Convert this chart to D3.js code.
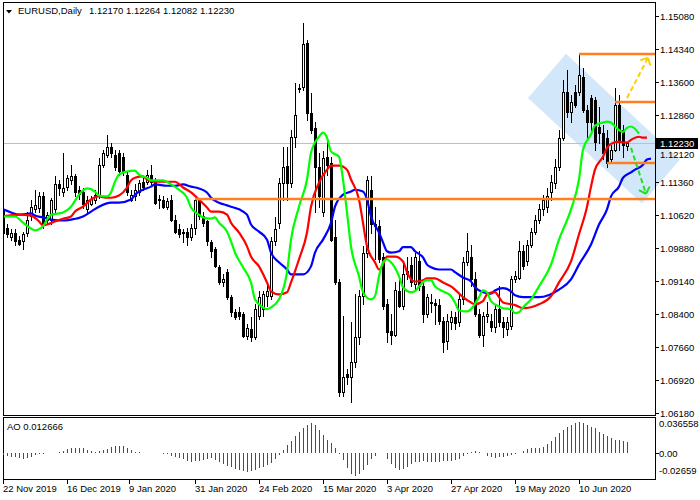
<!DOCTYPE html>
<html><head><meta charset="utf-8">
<script src="https://cdn.jsdelivr.net/npm/d3@7"></script>
<style>
body{margin:0;background:#fff;}
svg{display:block;font-family:"Liberation Sans",Arial,sans-serif;}
</style></head><body>
<svg id="c" width="700" height="500"></svg>
<script>
// ---------- DATA ----------
const symbolTitle = "EURUSD,Daily";
const headerValues = ["1.12170", "1.12264", "1.12082", "1.12230"];
const lastPrice = 1.12230;
const lastPriceLabel = "1.12230";
const aoLabel = "AO 0.012666";

const openP = [1.1074,1.1033,1.1013,1.1022,1.1006,1.1002,1.1022,1.1058,1.1074,1.1078,
1.1105,1.1051,1.1051,1.1074,1.1130,1.1112,1.1125,1.1141,1.1148,1.1118,
1.1114,1.1074,1.1087,1.1096,1.1107,1.1174,1.1197,1.1215,1.1197,1.1201,
1.1192,1.1152,1.1096,1.1103,1.1114,1.1136,1.1136,1.1152,1.1136,1.1098,
1.1096,1.1080,1.1096,1.1051,1.1031,1.1020,1.1024,1.1011,1.1033,1.1096,
1.1058,1.1047,1.1000,1.0984,1.0944,1.0912,1.0933,1.0877,1.0843,1.0843,
1.0838,1.0789,1.0805,1.0787,1.0834,1.0850,1.0879,1.0879,1.1002,1.1044,
1.1134,1.1172,1.1134,1.1237,1.1347,1.1349,1.1448,1.1291,1.1257,1.1170,
1.1067,1.1192,1.1179,1.1011,1.0912,1.0664,1.0704,1.0697,1.0731,1.0787,
1.0879,1.0977,1.1118,1.1040,1.1036,1.0966,1.0861,1.0800,1.0793,1.0890,
1.0856,1.0935,1.0950,1.0906,1.0957,1.0901,1.0838,1.0865,1.0863,1.0859,
1.0823,1.0778,1.0821,1.0832,1.0821,1.0872,1.0955,1.0968,1.0917,1.0838,
1.0793,1.0834,1.0823,1.0809,1.0850,1.0821,1.0805,1.0812,1.0917,1.0921,
1.0980,1.0957,1.0995,1.1024,1.1051,1.1074,1.1080,1.1114,1.1134,1.1168,
1.1235,1.1338,1.1293,1.1338,1.1338,1.1372,1.1298,1.1325,1.1320,1.1259,
1.1246,1.1235,1.1186,1.1208,1.1309,1.1253,1.1217];
const highP = [1.1085,1.1042,1.1029,1.1029,1.1015,1.1024,1.1069,1.1096,1.1118,1.1112,
1.1112,1.1069,1.1100,1.1148,1.1141,1.1201,1.1152,1.1174,1.1154,1.1127,
1.1123,1.1105,1.1105,1.1118,1.1190,1.1208,1.1242,1.1224,1.1208,1.1208,
1.1201,1.1159,1.1118,1.1130,1.1141,1.1145,1.1163,1.1174,1.1145,1.1107,
1.1103,1.1100,1.1107,1.1062,1.1040,1.1029,1.1033,1.1040,1.1100,1.1100,
1.1067,1.1051,1.1006,1.0989,1.0948,1.0928,1.0939,1.0881,1.0850,1.0854,
1.0843,1.0816,1.0832,1.0861,1.0890,1.0890,1.0906,1.1011,1.1056,1.1145,
1.1215,1.1215,1.1253,1.1358,1.1356,1.1493,1.1454,1.1336,1.1271,1.1201,
1.1204,1.1230,1.1192,1.1051,1.0917,1.0834,1.0715,1.0821,1.0883,1.0894,
1.0991,1.1148,1.1148,1.1080,1.1051,1.0977,1.0872,1.0838,1.0910,1.0924,
1.0955,1.0966,1.0968,1.0977,1.0980,1.0912,1.0883,1.0883,1.0872,1.0872,
1.0832,1.0838,1.0845,1.0843,1.0883,1.0966,1.1022,1.0995,1.0933,1.0850,
1.0843,1.0865,1.0838,1.0861,1.0901,1.0832,1.0832,1.0924,1.0935,1.1002,
1.0995,1.1006,1.1033,1.1062,1.1085,1.1107,1.1123,1.1150,1.1186,1.1253,
1.1365,1.1387,1.1331,1.1354,1.1423,1.1392,1.1309,1.1331,1.1327,1.1304,
1.1264,1.1253,1.1219,1.1347,1.1331,1.1264,1.1226];
const lowP = [1.1006,1.1011,1.1006,1.0993,1.0993,1.0984,1.1015,1.1051,1.1067,1.1069,
1.1033,1.1040,1.1040,1.1067,1.1107,1.1103,1.1118,1.1132,1.1105,1.1098,
1.1078,1.1069,1.1083,1.1089,1.1100,1.1168,1.1192,1.1192,1.1163,1.1152,
1.1150,1.1107,1.1092,1.1096,1.1107,1.1118,1.1130,1.1130,1.1085,1.1078,
1.1078,1.1074,1.1047,1.1022,1.1013,1.1000,1.0995,1.1006,1.1018,1.1053,
1.1036,1.0995,1.0966,1.0944,1.0906,1.0901,1.0872,1.0834,1.0827,1.0827,
1.0787,1.0782,1.0778,1.0782,1.0827,1.0834,1.0856,1.0872,1.0995,1.1033,
1.1096,1.1096,1.1125,1.1215,1.1338,1.1342,1.1275,1.1246,1.1067,1.1080,
1.1058,1.1152,1.1002,1.0906,1.0655,1.0655,1.0682,1.0641,1.0720,1.0771,
1.0861,1.0968,1.1022,1.0962,1.0955,1.0850,1.0776,1.0771,1.0789,1.0854,
1.0850,1.0917,1.0901,1.0894,1.0894,1.0821,1.0832,1.0843,1.0816,1.0816,
1.0753,1.0760,1.0805,1.0805,1.0812,1.0861,1.0950,1.0901,1.0834,1.0787,
1.0767,1.0821,1.0800,1.0798,1.0812,1.0787,1.0793,1.0805,1.0910,1.0917,
1.0939,1.0950,1.0989,1.1018,1.1044,1.1062,1.1069,1.1096,1.1123,1.1163,
1.1230,1.1282,1.1269,1.1304,1.1331,1.1293,1.1230,1.1246,1.1208,1.1224,
1.1186,1.1170,1.1179,1.1204,1.1208,1.1192,1.1208];
const closeP = [1.1022,1.1018,1.1022,1.1002,1.0997,1.1018,1.1051,1.1080,1.1083,1.1105,
1.1040,1.1062,1.1094,1.1130,1.1123,1.1121,1.1145,1.1148,1.1112,1.1109,
1.1085,1.1096,1.1098,1.1107,1.1174,1.1201,1.1215,1.1201,1.1170,1.1159,
1.1157,1.1114,1.1107,1.1118,1.1134,1.1125,1.1152,1.1136,1.1089,1.1094,
1.1080,1.1092,1.1051,1.1024,1.1018,1.1024,1.1011,1.1033,1.1096,1.1058,
1.1044,1.1002,1.0980,1.0946,1.0910,1.0917,1.0877,1.0843,1.0832,1.0834,
1.0789,1.0807,1.0787,1.0850,1.0877,1.0883,1.0890,1.1002,1.1029,1.1134,
1.1170,1.1134,1.1237,1.1286,1.1345,1.1445,1.1291,1.1253,1.1170,1.1103,
1.1190,1.1174,1.1006,1.0912,1.0664,1.0697,1.0697,1.0731,1.0787,1.0879,
1.0977,1.1141,1.1040,1.1036,1.0962,1.0856,1.0798,1.0793,1.0894,1.0856,
1.0928,1.0928,1.0910,1.0968,1.0901,1.0838,1.0877,1.0863,1.0859,1.0823,
1.0776,1.0823,1.0832,1.0818,1.0872,1.0955,1.0980,1.0917,1.0838,1.0793,
1.0834,1.0838,1.0809,1.0850,1.0821,1.0809,1.0821,1.0917,1.0924,1.0980,
1.0946,1.0995,1.1024,1.1051,1.1074,1.1096,1.1103,1.1136,1.1170,1.1235,
1.1338,1.1293,1.1316,1.1309,1.1376,1.1298,1.1271,1.1269,1.1226,1.1246,
1.1201,1.1179,1.1208,1.1309,1.1226,1.1219,1.1223];

// Alligator lines (bar index, price)
const lipsIdx = [0,3,5,7,8,10,11,12,14,15,17,19,21,23,24,26,27,28,29,31,33,34,36,37,40,42,44,46,47,49,50,52,53,54,56,57,58,60,62,63,65,66,67,69,71,72,74,76,77,79,80,81,82,84,85,86,87,89,90,92,93,94,95,96,97,99,100,102,103,104,106,107,108,110,112,113,114,116,117,119,120,121,122,124,125,127,128,129,130,132,134,137,139,142,144,145,147,148,150,151,152,153,155,156,157,158,159];
const lipsVal = [1.1058,1.1058,1.1044,1.1031,1.1027,1.1036,1.1051,1.1062,1.1065,1.1067,1.1080,1.1107,1.1121,1.1114,1.1105,1.1103,1.1112,1.1136,1.1152,1.1159,1.1161,1.1152,1.1145,1.1139,1.1139,1.1130,1.1118,1.1100,1.1078,1.1062,1.1056,1.1053,1.1056,1.1044,1.1024,1.1002,1.0977,1.0944,1.0910,1.0872,1.0854,1.0850,1.0854,1.0872,1.0933,1.1006,1.1080,1.1141,1.1201,1.1237,1.1246,1.1235,1.1204,1.1192,1.1141,1.1067,1.0991,1.0924,1.0888,1.0872,1.0879,1.0924,1.0955,1.0962,1.0955,1.0924,1.0899,1.0888,1.0890,1.0901,1.0915,1.0915,1.0901,1.0890,1.0879,1.0865,1.0847,1.0845,1.0850,1.0877,1.0892,1.0888,1.0868,1.0856,1.0852,1.0850,1.0841,1.0843,1.0854,1.0872,1.0901,1.0950,1.1006,1.1074,1.1141,1.1208,1.1242,1.1262,1.1269,1.1271,1.1269,1.1260,1.1248,1.1257,1.1260,1.1255,1.1244];
const teethIdx = [0,4,7,9,10,11,13,15,17,18,20,22,24,26,27,29,31,32,33,35,36,38,41,43,45,47,49,51,52,54,56,57,59,61,62,64,66,67,69,71,72,74,76,77,79,81,82,84,86,87,89,90,91,93,94,95,96,98,100,101,102,103,105,106,108,110,112,113,115,117,118,120,121,123,124,125,127,128,130,134,137,139,142,144,146,147,148,150,151,152,154,155,156,157,159,160,161];
const teethVal = [1.1058,1.1062,1.1060,1.1047,1.1038,1.1040,1.1047,1.1053,1.1058,1.1069,1.1080,1.1096,1.1103,1.1100,1.1100,1.1105,1.1123,1.1139,1.1145,1.1148,1.1141,1.1136,1.1136,1.1136,1.1123,1.1112,1.1096,1.1078,1.1069,1.1069,1.1062,1.1044,1.1022,1.0991,1.0968,1.0946,1.0910,1.0890,1.0883,1.0888,1.0910,1.0962,1.1022,1.1080,1.1134,1.1163,1.1172,1.1172,1.1163,1.1141,1.1096,1.1044,1.0991,1.0955,1.0939,1.0950,1.0968,1.0968,1.0957,1.0933,1.0917,1.0912,1.0915,1.0919,1.0919,1.0910,1.0901,1.0894,1.0877,1.0865,1.0861,1.0868,1.0883,1.0888,1.0877,1.0865,1.0861,1.0859,1.0852,1.0861,1.0879,1.0910,1.0957,1.1018,1.1080,1.1125,1.1163,1.1192,1.1212,1.1221,1.1226,1.1224,1.1224,1.1230,1.1237,1.1235,1.1235];
const jawIdx = [0,2,4,7,8,10,12,15,17,20,22,24,27,29,32,33,35,37,38,41,43,45,47,49,51,52,54,56,57,59,61,62,64,66,67,69,71,72,75,77,78,80,82,83,85,87,88,90,91,92,94,95,96,97,99,100,102,103,105,106,107,109,112,113,115,117,118,120,122,123,125,127,128,130,134,139,142,144,147,149,151,152,154,155,157,158,160,161,162];
const jawVal = [1.1074,1.1067,1.1062,1.1065,1.1060,1.1056,1.1051,1.1049,1.1051,1.1058,1.1069,1.1080,1.1089,1.1089,1.1096,1.1107,1.1118,1.1125,1.1130,1.1127,1.1127,1.1130,1.1125,1.1121,1.1112,1.1100,1.1089,1.1083,1.1080,1.1074,1.1062,1.1040,1.1024,1.1006,1.0977,1.0955,1.0939,1.0928,1.0928,1.0946,1.0977,1.1006,1.1044,1.1080,1.1107,1.1114,1.1118,1.1114,1.1096,1.1058,1.1022,1.1000,1.0980,1.0977,1.0980,1.0989,1.0989,1.0980,1.0966,1.0950,1.0944,1.0939,1.0939,1.0933,1.0921,1.0912,1.0899,1.0888,1.0885,1.0892,1.0897,1.0890,1.0881,1.0877,1.0877,1.0894,1.0917,1.0950,1.0995,1.1040,1.1074,1.1103,1.1125,1.1145,1.1157,1.1163,1.1174,1.1186,1.1188];

// Awesome Oscillator histogram
const aoValues = [-0.0019,-0.0031,-0.0039,-0.0047,-0.0058,-0.0066,-0.0058,-0.0039,-0.0019,-0.0012,
-0.0004,-0.0002,0.0001,0.0002,0.0012,0.0031,0.0047,0.0058,0.0062,0.0066,
0.0058,0.0039,0.0027,0.0019,0.0027,0.0039,0.0054,0.0078,0.0086,0.0089,
0.0086,0.0058,0.0039,0.0019,0.0012,0.0008,0.0004,0.0003,0.0002,0.0001,
-0.0008,-0.0012,-0.0027,-0.0047,-0.0058,-0.0070,-0.0086,-0.0097,-0.0095,-0.0089,
-0.0078,-0.0070,-0.0058,-0.0078,-0.0097,-0.0124,-0.0144,-0.0163,-0.0183,-0.0195,
-0.0202,-0.0214,-0.0212,-0.0195,-0.0175,-0.0156,-0.0136,-0.0117,-0.0070,-0.0019,
0.0039,0.0097,0.0148,0.0202,0.0245,0.0292,0.0331,0.0350,0.0331,0.0272,
0.0214,0.0156,0.0117,0.0058,-0.0005,-0.0078,-0.0175,-0.0241,-0.0266,-0.0241,
-0.0195,-0.0136,-0.0070,-0.0031,0.0004,0.0008,-0.0070,-0.0124,-0.0175,-0.0195,
-0.0187,-0.0156,-0.0124,-0.0105,-0.0097,-0.0089,-0.0097,-0.0101,-0.0105,-0.0097,
-0.0093,-0.0089,-0.0086,-0.0078,-0.0066,-0.0035,-0.0012,0.0012,0.0023,0.0012,
0.0002,-0.0031,-0.0047,-0.0058,-0.0047,-0.0039,-0.0027,-0.0019,-0.0012,0.0001,
0.0031,0.0047,0.0058,0.0056,0.0066,0.0078,0.0109,0.0148,0.0187,0.0233,
0.0272,0.0303,0.0331,0.0350,0.0366,0.0350,0.0331,0.0311,0.0292,0.0253,
0.0226,0.0206,0.0175,0.0160,0.0150,0.0140,0.012666];

const priceTicks = [1.15080,1.14340,1.13600,1.12860,1.12120,1.11360,1.10620,1.09880,1.09140,1.08400,1.07660,1.06920,1.06180];
const priceTickLabels = ["1.15080","1.14340","1.13600","1.12860","1.12120","1.11360","1.10620","1.09880","1.09140","1.08400","1.07660","1.06920","1.06180"];
const aoTicks = [0.036558, 0, -0.02659];
const aoTickLabels = ["0.036558","0.00","-0.02659"];
const dateIdx = [0,16,31.5,48,64,80,96,112,128,144];
const dateLabels = ["22 Nov 2019","16 Dec 2019","9 Jan 2020","31 Jan 2020","24 Feb 2020","15 Mar 2020","3 Apr 2020","27 Apr 2020","19 May 2020","10 Jun 2020"];

// Drawn objects (bar index, price)
const levelPrices = [1.1098, 1.1423, 1.1315, 1.1178];
const levelStart = [48, 144, 153, 151];
const channelIdx = [131.25, 140.75, 169.25, 159.75];
const channelPrice = [1.1324, 1.1423, 1.1186, 1.1087];
const upArrowIdx = [156, 161.25], upArrowPrice = [1.1324, 1.1414];
const downArrowIdx = [157, 160.75], downArrowPrice = [1.1212, 1.1109];

// ---------- LAYOUT ----------
const L = 3, R = 655, mainTop = 2, mainBot = 415, aoTop = 417, aoBot = 479;
const x = d3.scaleLinear().domain([0, 156]).range([3, 627]);
const y = d3.scaleLinear().domain([1.0618, 1.1508]).range([412.5, 16]);
const ay = d3.scaleLinear().domain([-0.02659, 0.036558]).range([476, 422]);
const FONT = 9.5;

const svg = d3.select("#c");
svg.append("rect").attr("width",700).attr("height",500).attr("fill","#fff");
const defs = svg.append("defs");
defs.append("clipPath").attr("id","mclip").append("rect")
  .attr("x",L).attr("y",mainTop).attr("width",R-L).attr("height",mainBot-mainTop);
defs.append("clipPath").attr("id","aclip").append("rect")
  .attr("x",L).attr("y",aoTop).attr("width",R-L).attr("height",aoBot-aoTop);

// channel (background object)
svg.append("polygon")
  .attr("points", channelIdx.map((d,i)=>[x(d), y(channelPrice[i])].join(",")).join(" "))
  .attr("fill","#d2e8fa").attr("stroke","none");

const g = svg.append("g").attr("clip-path","url(#mclip)");

// last price line
g.append("line").attr("x1",L).attr("x2",R)
  .attr("y1",Math.round(y(lastPrice))+0.5).attr("y2",Math.round(y(lastPrice))+0.5)
  .attr("stroke","#c0c0c0").attr("stroke-width",1).attr("shape-rendering","crispEdges");

// candles
const cg = g.append("g").attr("shape-rendering","crispEdges");
closeP.forEach((c,i)=>{
  const o=openP[i], h=highP[i], l=lowP[i];
  const cx=Math.round(x(i));
  cg.append("line").attr("x1",cx+0.5).attr("x2",cx+0.5)
    .attr("y1",Math.round(y(h))).attr("y2",Math.round(y(l))+1)
    .attr("stroke","#000").attr("stroke-width",1);
  const top=Math.round(y(Math.max(o,c))), bot=Math.round(y(Math.min(o,c)));
  if(bot-top<1){
    cg.append("line").attr("x1",cx-1).attr("x2",cx+2).attr("y1",top+0.5).attr("y2",top+0.5)
      .attr("stroke","#000").attr("stroke-width",1);
  } else {
    cg.append("rect").attr("x",cx-0.5).attr("y",top+0.5).attr("width",2).attr("height",bot-top)
      .attr("fill", c>=o ? "#fff" : "#000").attr("stroke","#000").attr("stroke-width",1);
  }
});

// alligator lines
const lineGen = d3.line().x(d=>x(d[0])).y(d=>y(d[1])).curve(d3.curveMonotoneX);
[[jawIdx,jawVal,"#0000ff"],[teethIdx,teethVal,"#ff0000"],[lipsIdx,lipsVal,"#00ff00"]].forEach(([ix,vs,col])=>{
  g.append("path").attr("d", lineGen(ix.map((d,i)=>[d,vs[i]])))
    .attr("fill","none").attr("stroke",col).attr("stroke-width",2.2).attr("stroke-linejoin","round");
});

// horizontal levels
levelPrices.forEach((p,i)=>{
  const yy=Math.round(y(p));
  g.append("line").attr("x1",x(levelStart[i])).attr("x2",R).attr("y1",yy).attr("y2",yy)
    .attr("stroke","#ff7f1e").attr("stroke-width",2.5);
});

// arrows
function arrow(ix, pr, col){
  const x1=x(ix[0]), y1=y(pr[0]), x2=x(ix[1]), y2=y(pr[1]);
  g.append("line").attr("x1",x1).attr("y1",y1).attr("x2",x2).attr("y2",y2)
    .attr("stroke",col).attr("stroke-width",2).attr("stroke-dasharray","5,3");
  const ang=Math.atan2(y2-y1,x2-x1), len=8;
  [Math.PI*0.75, -Math.PI*0.75].forEach(a=>{
    g.append("line").attr("x1",x2).attr("y1",y2)
      .attr("x2",x2+len*Math.cos(ang+a)).attr("y2",y2+len*Math.sin(ang+a))
      .attr("stroke",col).attr("stroke-width",2);
  });
}
arrow(upArrowIdx, upArrowPrice, "#ffcc00");
arrow(downArrowIdx, downArrowPrice, "#22dd22");

// frames
svg.append("rect").attr("x",L+0.5).attr("y",mainTop+0.5).attr("width",R-L).attr("height",mainBot-mainTop)
  .attr("fill","none").attr("stroke","#000").attr("shape-rendering","crispEdges");
svg.append("rect").attr("x",L+0.5).attr("y",aoTop+0.5).attr("width",R-L).attr("height",aoBot-aoTop)
  .attr("fill","none").attr("stroke","#000").attr("shape-rendering","crispEdges");

// price axis
const ly=Math.round(y(lastPrice));
const pa = svg.append("g");
priceTicks.forEach((p,i)=>{
  const yy=Math.round(y(p))+0.5;
  pa.append("line").attr("x1",R).attr("x2",R+4).attr("y1",yy).attr("y2",yy)
    .attr("stroke","#000").attr("shape-rendering","crispEdges");
  // keep the label that sits under the last-price tag just below the tag
  const ty = Math.abs(yy-ly) < 10 ? ly+12 : yy;
  pa.append("text").attr("x",R+5).attr("y",ty).attr("dy","0.35em")
    .attr("font-size",FONT).attr("fill","#000").text(priceTickLabels[i]);
});
// last price tag
svg.append("rect").attr("x",R+1).attr("y",ly-5).attr("width",42).attr("height",11).attr("fill","#000");
svg.append("text").attr("x",R+5).attr("y",ly+0.5).attr("dy","0.35em").attr("font-size",FONT)
  .attr("fill","#fff").text(lastPriceLabel);

// AO panel
const ag = svg.append("g").attr("clip-path","url(#aclip)").attr("shape-rendering","crispEdges");
aoValues.forEach((v,i)=>{
  const up = i>0 && v>aoValues[i-1];
  const cx=Math.round(x(i))+0.5;
  ag.append("line").attr("x1",cx).attr("x2",cx).attr("y1",ay(0)).attr("y2",ay(v))
    .attr("stroke", up ? "#008000" : "#ff0000").attr("stroke-width",1);
});
const aoLabelY = [424, ay(0), 471];
aoTicks.forEach((t,i)=>{
  if(t===0){
    svg.append("line").attr("x1",R).attr("x2",R+4).attr("y1",Math.round(ay(0))+0.5).attr("y2",Math.round(ay(0))+0.5)
      .attr("stroke","#000").attr("shape-rendering","crispEdges");
  }
  svg.append("text").attr("x",R+4).attr("y",aoLabelY[i]).attr("dy","0.35em")
    .attr("font-size",FONT).attr("fill","#000").text(aoTickLabels[i]);
});
svg.append("text").attr("x",7).attr("y",430).attr("font-size",FONT).attr("fill","#000").text(aoLabel);

// date axis
dateIdx.forEach((d,i)=>{
  const xx=Math.round(x(d))+0.5;
  svg.append("line").attr("x1",xx).attr("x2",xx).attr("y1",aoBot).attr("y2",aoBot+5)
    .attr("stroke","#000").attr("shape-rendering","crispEdges");
  svg.append("text").attr("x",xx-0.5).attr("y",492).attr("font-size",FONT).attr("fill","#000").text(dateLabels[i]);
});

// header
svg.append("path").attr("d","M6,10 L12,10 L9,13.5 Z").attr("fill","#000");
svg.append("text").attr("x",18).attr("y",14).attr("font-size",FONT).attr("fill","#000").text(symbolTitle);
svg.append("text").attr("x",89).attr("y",14).attr("font-size",FONT).attr("fill","#000").text(headerValues.join(" "));
</script>
</body></html>
